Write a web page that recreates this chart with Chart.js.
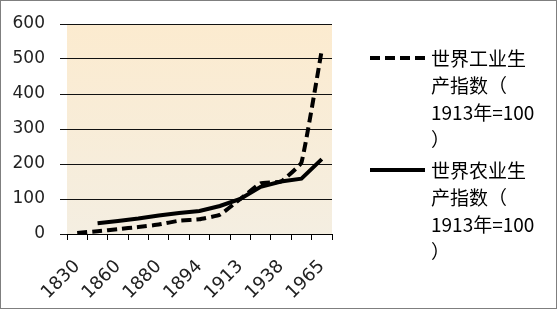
<!DOCTYPE html>
<html>
<head>
<meta charset="utf-8">
<script src="https://cdn.jsdelivr.net/npm/chart.js@4"></script>
<style>
  html, body { margin: 0; padding: 0; background: #fff; }
  #wrap { position: relative; width: 557px; height: 309px; overflow: hidden; }
  #frame { position: absolute; left: 0; top: 0; width: 557px; height: 309px; border: 1px solid #7f7f7f; box-sizing: border-box; pointer-events: none; }
  #legend { position: absolute; left: 370px; top: 0; }
  .item { position: absolute; left: 0; width: 185px; }
  .item svg { position: absolute; left: 0; }
  .item .text { position: absolute; left: 61px; top: 0; font: 19px "Noto Sans CJK SC", sans-serif; line-height: 27px; color: #000; white-space: nowrap; }
</style>
</head>
<body>
<div id="wrap">
  <canvas id="chart" width="557" height="309"></canvas>
  <div id="legend"></div>
  <div id="frame"></div>
</div>
<script>
// categories: only every other year is labelled on the axis
const categories = ['1830', '', '1860', '', '1880', '', '1894', '', '1913', '', '1938', '', '1965'];
const industryIndex = [3, 8, 14, 20, 27, 38, 42, 55, 100, 145, 150, 204, 526];
const agricultureIndex = [null, 31, 37, 44, 53, 60, 66, 80, 100, 135, 150, 158, 214];
const seriesNames = ['世界工业生产指数（1913年=100）', '世界农业生产指数（1913年=100）'];
const yMin = 0;
const yMax = 600;
const yStep = 100;

// where the legend text wraps
const legendBreaks = [5, 9, 18];

// plot area background
const plotBg = {
  id: 'plotBg',
  beforeDraw(chart) {
    const { ctx, chartArea: a } = chart;
    const g = ctx.createLinearGradient(0, a.top, 0, a.bottom);
    g.addColorStop(0, '#fcebcf');
    g.addColorStop(1, '#f4eee1');
    ctx.save();
    ctx.fillStyle = g;
    ctx.fillRect(a.left, a.top, a.right - a.left, a.bottom - a.top);
    ctx.restore();
  },
};

const chart = new Chart(document.getElementById('chart'), {
  type: 'line',
  data: {
    labels: categories,
    datasets: [
      {
        label: seriesNames[0],
        data: industryIndex,
        borderColor: '#000',
        borderWidth: 4,
        borderDash: [10, 5],
        pointRadius: 0,
        tension: 0.1,
        fill: false,
      },
      {
        label: seriesNames[1],
        data: agricultureIndex,
        borderColor: '#000',
        borderWidth: 4,
        pointRadius: 0,
        tension: 0,
        fill: false,
      },
    ],
  },
  options: {
    responsive: false,
    animation: false,
    layout: { padding: { left: 13, top: 24, right: 225, bottom: 0 } },
    plugins: {
      legend: { display: false },
      tooltip: { enabled: false },
    },
    scales: {
      x: {
        offset: true,
        grid: { offset: true, drawOnChartArea: false, drawTicks: true, tickLength: 6, color: '#000' },
        border: { color: '#000', width: 1 },
        ticks: { autoSkip: false, maxRotation: 45, minRotation: 45, padding: 16, color: '#222', font: { family: 'DejaVu Sans', size: 18 } },
        afterFit(scale) {
          scale.height = 75;
          scale.paddingLeft = 0;
          scale.paddingRight = 0;
        },
      },
      y: {
        min: yMin,
        max: yMax,
        ticks: { stepSize: yStep, padding: 15, color: '#222', font: { family: 'DejaVu Sans', size: 17 } },
        grid: { color: '#111', lineWidth: 1, tickLength: 7 },
        border: { display: false },
        afterFit(scale) {
          scale.width = 54;
          scale.paddingTop = 0;
          scale.paddingBottom = 0;
        },
      },
    },
  },
  plugins: [plotBg],
});

// HTML legend with wrapped text
const legendEl = document.getElementById('legend');
const legendTops = [44, 156];
chart.data.datasets.forEach((ds, i) => {
  const item = document.createElement('div');
  item.className = 'item';
  item.style.top = legendTops[i] + 'px';
  const dash = ds.borderDash ? ds.borderDash.join(' ') : 'none';
  item.innerHTML = `<svg width="56" height="8" style="top:${13.5 - 4}px"><line x1="0" y1="4" x2="55" y2="4" stroke="#000" stroke-width="4" stroke-dasharray="${dash}"/></svg>`;
  const text = document.createElement('div');
  text.className = 'text';
  const name = ds.label;
  let start = 0;
  const lines = [];
  [...legendBreaks, name.length].forEach((b) => {
    lines.push(name.slice(start, b));
    start = b;
  });
  lines.forEach((ln, j) => {
    if (j) text.appendChild(document.createElement('br'));
    text.appendChild(document.createTextNode(ln));
  });
  item.appendChild(text);
  legendEl.appendChild(item);
});
</script>
</body>
</html>
